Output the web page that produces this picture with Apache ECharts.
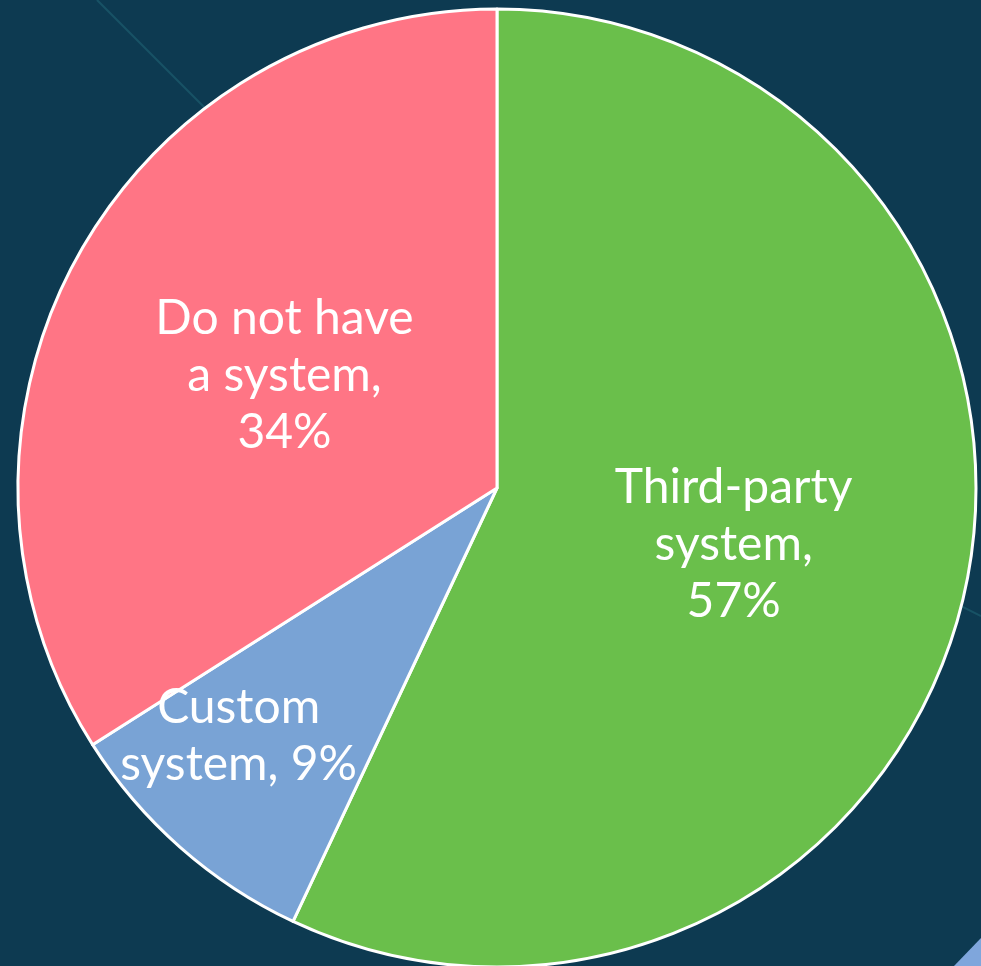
<!DOCTYPE html>
<html>
<head>
<meta charset="utf-8">
<script src="https://cdn.jsdelivr.net/npm/echarts@6/dist/echarts.min.js"></script>
<style>
  html, body { margin: 0; padding: 0; background: #0d3a51; }
  #chart { width: 981px; height: 966px; }
</style>
</head>
<body>
<div id="chart"></div>
<script>
// Share of respondents by type of system used
const categories = ['Third-party system', 'Custom system', 'Do not have a system'];
const labelLines = ['Third-party\nsystem,\n57%', 'Custom\nsystem, 9%', 'Do not have\na system,\n34%'];
const values = [57, 9, 34];
const colors = ['#6abf4b', '#79a3d5', '#ff7585'];

const chart = echarts.init(document.getElementById('chart'));

const data = categories.map((name, i) => {
  const item = {
    name: name,
    value: values[i],
    itemStyle: { color: colors[i] },
    label: { formatter: labelLines[i], offset: [0, 4] }
  };
  // the narrow slice carries its label further out toward the rim
  if (i === 1) item.label.offset = [-98, 66];
  return item;
});

chart.setOption({
  backgroundColor: '#0d3a51',
  animation: false,
  graphic: [
    { type: 'line', z: -1, shape: { x1: 97, y1: 0, x2: 215, y2: 118 },
      style: { stroke: '#1d5d6e', lineWidth: 2, opacity: 0.7 } },
    { type: 'line', z: -1, shape: { x1: 945, y1: 598, x2: 981, y2: 616 },
      style: { stroke: '#1d5d6e', lineWidth: 2, opacity: 0.7 } },
    { type: 'polygon', z: -1, shape: { points: [[954, 966], [981, 938], [981, 966]] },
      style: { fill: '#7fa6dc' } }
  ],
  series: [{
    type: 'pie',
    center: [497, 488],
    radius: 479,
    startAngle: 90,
    clockwise: true,
    data: data,
    itemStyle: { borderColor: '#ffffff', borderWidth: 3 },
    label: {
      show: true,
      position: 'inside',
      color: '#ffffff',
      fontFamily: 'Lato',
      fontSize: 48,
      lineHeight: 57,
      align: 'center'
    },
    labelLine: { show: false },
    emphasis: { disabled: true }
  }]
});
</script>
</body>
</html>
